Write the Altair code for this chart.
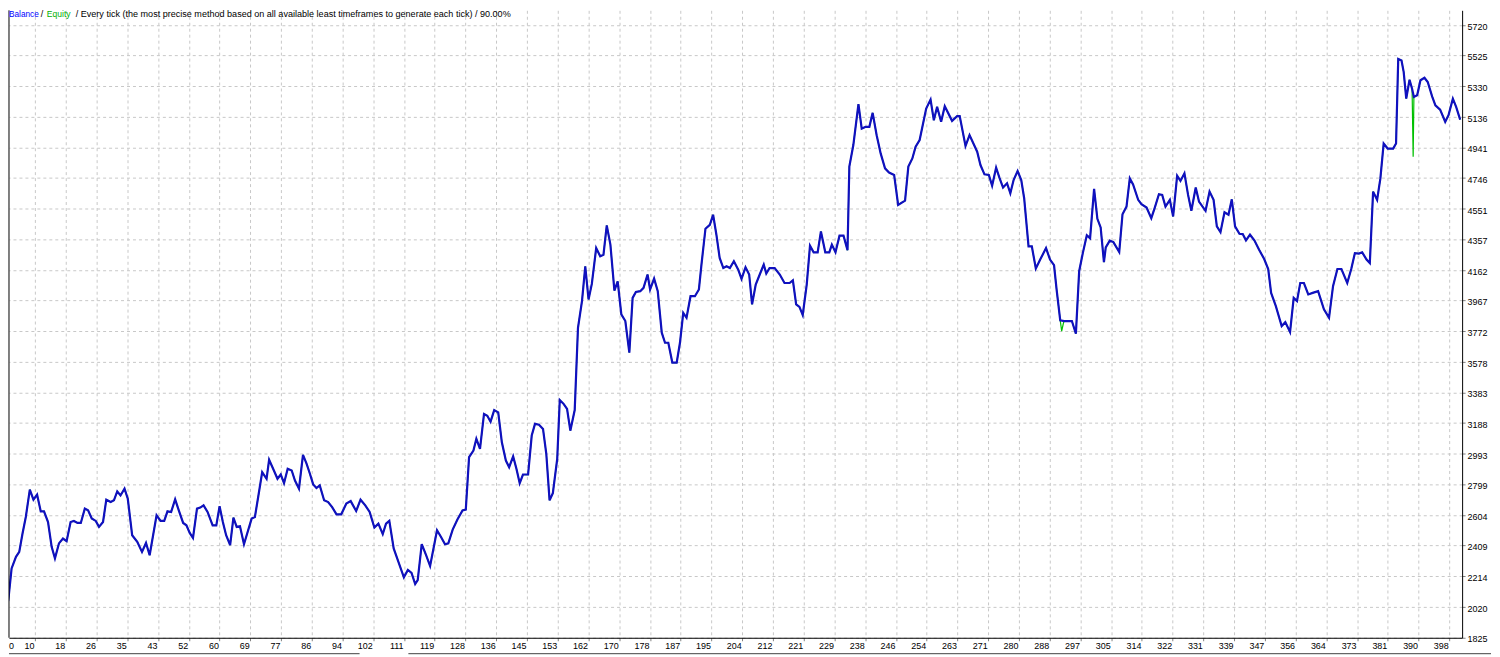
import altair as alt
import pandas as pd

# ---- data (trade index, balance) ----
seg1_idx = [0.2,1.1,2.0,3.2,4.1,5.0,5.9,7.0,8.0,9.0,10.0,10.9,12.0,13.0,13.9,15.0,16.1,17.1,18.2,19.1,
            20.1,21.0,22.1,23.0,24.0,25.1,26.0,27.1,28.0,29.2,30.1,31.0,31.9,33.0,33.9,35.1,36.5,37.8,38.9,39.9,
            41.8,42.9,43.9,44.8,45.8,46.9,47.9,49.1,50.0,50.9,51.8,52.9,53.8,54.7,55.8,57.2,58.2,59.1,60.0,60.9,
            62.0,62.9,63.8,64.7,65.8]
seg1_val = [1995,2062,2263,2337,2368,2485,2590,2764,2700,2732,2626,2626,2558,2400,2327,2422,2453,2436,2558,2565,
            2552,2552,2643,2632,2580,2565,2527,2558,2700,2685,2696,2753,2727,2770,2706,2474,2432,2368,2425,2347,
            2601,2565,2565,2626,2622,2702,2632,2552,2537,2489,2457,2643,2650,2664,2622,2537,2537,2658,2558,2474,
            2411,2586,2527,2531,2417]

seg2_idx = [67.9,68.8,69.7,70.8,72.0,72.7,73.8,75.0,75.9,76.8,77.8,78.9,79.8,80.9,82.0,83.0,83.9,84.8,85.7,86.6,
            87.8,88.9,90.0,91.2,92.5,93.9,95.1,96.6,97.8,99.1,100.3,101.6,102.7,103.9,104.8,105.7,106.9,108.2,109.7,110.8,
            111.8,112.8,113.5,114.6,115.8,116.9,118.8,119.9,121.0,121.9,123.1,124.4,125.8,126.7,127.6,128.8,129.6,130.6,131.7,132.6,
            133.5,134.5]
seg2_val = [2580,2590,2717,2875,2833,2954,2897,2833,2860,2805,2897,2886,2822,2770,2985,2928,2865,2797,2774,2791,
            2696,2685,2653,2607,2607,2675,2691,2628,2700,2664,2622,2523,2548,2481,2548,2565,2390,2305,2206,2253,
            2235,2164,2189,2417,2347,2278,2506,2463,2417,2422,2510,2574,2632,2637,2970,3012,3087,3023,3245,3234,
            3196,3270]

seg3_idx = [135.6,136.6,137.7,138.6,139.7,140.6,141.5,142.4,143.8,144.8,145.7,146.8,147.9,148.8,149.7,150.6,151.8,152.5,153.6,154.5,
            155.4,156.6,157.5,158.6,159.5,160.4,161.3,162.5,163.6,164.5,165.4,166.4,167.5,168.4,169.4,170.5,171.6,172.5,173.4,174.6,
            175.5,176.6,177.3,178.4,179.4,180.5,181.4,182.3,183.4,184.6,185.5,186.4,187.3,188.4,189.6,190.7,191.4,192.5,193.7,194.6,
            195.5,196.4,197.4,198.3,199.2,200.3,201.5]
seg3_val = [3255,3065,2949,2907,2975,2897,2805,2860,2860,3108,3182,3177,3150,2992,2696,2742,2960,3334,3308,3277,
            3139,3270,3793,3963,4184,3973,4072,4300,4248,4258,4444,4322,4030,4089,3878,3836,3635,3983,4021,4026,
            4047,4132,4037,4106,4026,3762,3698,3698,3572,3572,3698,3888,3857,3994,3994,4037,4195,4423,4448,4512,
            4385,4237,4173,4184,4173,4216,4163]

seg4_idx = [202.4,203.5,204.5,205.3,206.3,207.4,208.5,209.2,210.1,211.5,212.9,214.2,215.6,216.5,217.4,218.3,219.2,220.3,221.2,222.2,
            223.3,224.2,225.4,226.5,227.2,228.2,229.3,230.4,231.5,232.0,233.1,234.5,235.4,236.5,237.5,238.4,239.5,240.6,241.8,242.9,
            244.3,245.4,247.3,248.2,249.3,250.2,251.3,253.1,254.3,255.2,256.1,257.2,258.2,260.2,261.6,262.3,263.9,265.0]
seg4_val = [4104,4178,4132,3942,4068,4132,4195,4138,4173,4173,4132,4078,4078,4095,3942,3926,3874,4068,4315,4273,
            4273,4406,4273,4273,4322,4273,4379,4379,4286,4818,4955,5215,5060,5071,5071,5160,5018,4902,4807,4780,
            4765,4575,4602,4818,4870,4944,4987,5187,5244,5113,5198,5103,5202,5109,5139,5139,4949,5018]

seg5_idx = [267.1,268.0,269.1,270.3,271.2,272.3,273.2,274.2,275.3,276.2,277.1,278.2,279.2,280.0,281.2,282.1,283.2,284.4,286.0,287.1,
            288.2,288.9,289.9,291.0,293.1,294.2,295.1,296.1,297.2,298.1,299.2,300.1,301.0,301.9,302.4,303.5,304.5,306.1,307.0,308.1,
            309.0,309.9,311.3,312.2,313.6,314.9,315.8,317.0,317.9,318.8,320.0,320.9,322.0,322.9,324.0,325.0,325.9,327.1,328.0,329.8,
            330.9,332.0,332.9,333.9,335.0]
seg5_val = [4913,4828,4769,4765,4697,4811,4748,4685,4712,4648,4733,4790,4733,4617,4311,4311,4170,4227,4300,4227,
            4191,4037,3840,3836,3836,3755,4153,4268,4381,4363,4676,4486,4431,4211,4304,4347,4338,4275,4515,4564,
            4743,4705,4607,4579,4558,4490,4553,4642,4638,4564,4607,4501,4760,4727,4775,4638,4537,4685,4596,4537,
            4659,4607,4438,4401,4528]

seg6_idx = [336.1,337.0,337.9,339.1,340.0,340.9,342.0,343.2,344.5,345.9,347.0,347.8,349.1,350.7,351.7,353.0,354.0,354.9,355.8,356.8,
            358.0,359.2,360.7,362.3,363.7,364.8,366.0,367.1,368.7,369.8,370.8,371.9,372.8,374.0,374.9,375.8,376.9,377.8,378.7,379.8,
            381.3,382.1,382.7,383.6,384.2,384.9,385.8,386.5,387.0,387.9,388.8,389.9,390.8,392.0,392.9,394.2,395.6,396.5,397.7,398.6,
            399.7]
seg6_val = [4512,4610,4438,4391,4389,4349,4385,4349,4290,4230,4167,4015,3931,3804,3829,3766,3983,3963,4078,4078,
            4005,4015,4026,3910,3857,4058,4167,4167,4078,4167,4268,4265,4273,4227,4205,4659,4607,4743,4965,4933,
            4933,4965,5503,5493,5419,5250,5370,5313,5261,5272,5367,5383,5356,5265,5208,5180,5103,5145,5250,5198,
            5117]

# equity differs from balance only at these floating drawdowns
equity_dip_idx = [290.3, 290.8, 386.8]
equity_dip_val = [3772, 3825, 4881]

x_tick_labels = ["0","10","18","26","35","43","52","60","69","77","86","94","102","111","119","128","136","145",
                 "153","162","170","178","187","195","204","212","221","229","238","246","254","263","271","280",
                 "288","297","305","314","322","331","339","347","356","364","373","381","390","398"]
y_tick_labels = [1825,2020,2214,2409,2604,2799,2993,3188,3383,3578,3772,3967,4162,4357,4551,4746,4941,5136,5330,5525,5720]

header_balance = "Balance"
header_equity = "Equity"
header_rest = "/ Every tick (the most precise method based on all available least timeframes to generate each tick) / 90.00%"

# ---- build tables ----
b_idx = seg1_idx + seg2_idx + seg3_idx + seg4_idx + seg5_idx + seg6_idx
b_val = seg1_val + seg2_val + seg3_val + seg4_val + seg5_val + seg6_val
assert len(b_idx) == len(b_val)
balance = pd.DataFrame({"idx": b_idx, "value": b_val})
equity = pd.concat([balance, pd.DataFrame({"idx": equity_dip_idx, "value": equity_dip_val})]).sort_values("idx")

W, H = 1459, 630
GRID_STEP = 8.441
x_tick_pos = [round(GRID_STEP * k, 3) for k in range(1, len(x_tick_labels))]
label_arr = "[" + ",".join("'" + s + "'" for s in x_tick_labels) + "]"

FONT = "Liberation Sans"
grid_color = "#c8c8c8"

xscale = alt.Scale(domain=[1.285, 400.24], nice=False, zero=False)
yscale = alt.Scale(domain=[1822, 5812], nice=False, zero=False)

xaxis = alt.Axis(values=x_tick_pos, labelExpr=label_arr + "[round(datum.value / %s)]" % GRID_STEP,
                 title=None, grid=True, gridColor=grid_color, gridDash=[3, 3], gridWidth=1,
                 domainColor="black", domainWidth=1, tickColor="#808080", tickSize=3,
                 labelAlign="right", labelOffset=-1, labelPadding=1, labelBaseline="top",
                 labelFont=FONT, labelFontSize=9, labelColor="black", labelFlush=False, labelOverlap=False)
yaxis = alt.Axis(values=y_tick_labels, format="d", orient="right", title=None,
                 grid=True, gridColor=grid_color, gridDash=[3, 3], gridWidth=1,
                 domainColor="black", domainWidth=1, tickColor="#808080", tickSize=3,
                 labelAlign="left", labelBaseline="middle", labelOffset=1.5, labelPadding=2,
                 labelFont=FONT, labelFontSize=9, labelColor="black", labelFlush=False, labelOverlap=False)

eq_line = alt.Chart(equity).mark_line(color="#00c000", strokeWidth=1.2, clip=True).encode(
    x=alt.X("idx:Q", scale=xscale, axis=xaxis),
    y=alt.Y("value:Q", scale=yscale, axis=yaxis),
    order="idx:Q",
)
bal_line = alt.Chart(balance).mark_line(color="#1010bf", strokeWidth=2.2, clip=True).encode(
    x=alt.X("idx:Q", scale=xscale, axis=xaxis),
    y=alt.Y("value:Q", scale=yscale, axis=yaxis),
    order="idx:Q",
)

one = pd.DataFrame({"a": [0]})
left_border = alt.Chart(one).mark_rule(color="black", strokeWidth=1).encode(
    x=alt.value(0), y=alt.value(0), y2=alt.value(H))


def txt(s, x, color, size):
    return alt.Chart(pd.DataFrame({"t": [s]})).mark_text(
        align="left", baseline="top", font=FONT, fontSize=size, color=color
    ).encode(text="t:N", x=alt.value(x), y=alt.value(0))


h1 = txt(header_balance, 0, "#0000ff", 8.3)
h2 = txt("/", 32, "black", 9)
h3 = txt(header_equity, 38, "#00b000", 8.6)
h4 = txt(header_rest, 67, "black", 9.1)
zero_lbl = alt.Chart(pd.DataFrame({"t": [x_tick_labels[0]]})).mark_text(
    align="left", baseline="top", font=FONT, fontSize=9, color="black"
).encode(text="t:N", x=alt.value(0), y=alt.value(H + 4))

tab1 = alt.Chart(one).mark_rule(color="#404040", strokeWidth=1).encode(
    x=alt.value(0), x2=alt.value(352), y=alt.value(H + 16))
tab2 = alt.Chart(one).mark_rule(color="#404040", strokeWidth=1).encode(
    x=alt.value(401), x2=alt.value(1488), y=alt.value(H + 16))

chart = alt.layer(eq_line, bal_line, left_border, h1, h2, h3, h4, zero_lbl, tab1, tab2).properties(
    width=W, height=H, padding=0, background="white"
).configure_view(stroke=None).configure_axis(labelOverlap=False)

chart.save("out.html", embed_options={"renderer": "svg", "actions": False})
